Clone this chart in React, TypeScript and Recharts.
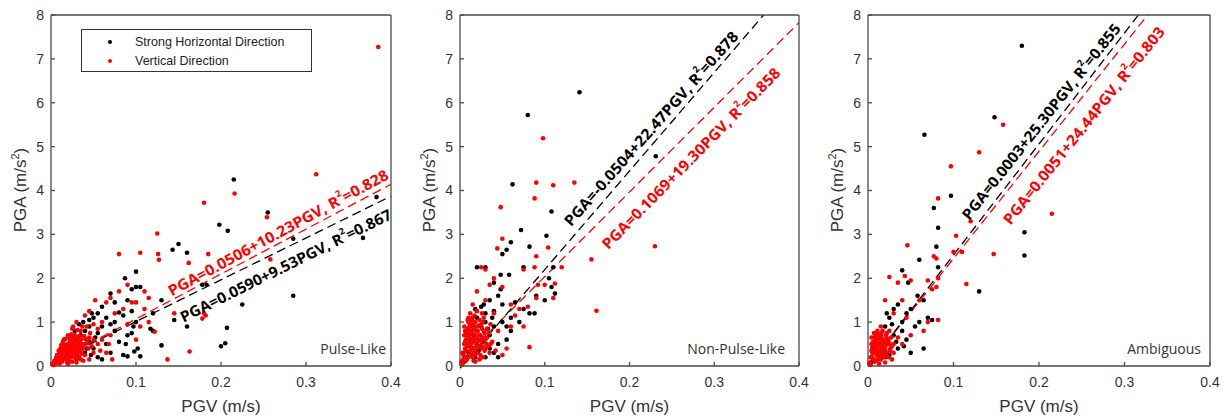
import React from 'react';
import {
  ScatterChart,
  Scatter,
  XAxis,
  YAxis,
  ReferenceLine,
  ReferenceDot,
  Legend,
} from 'recharts';

type Pt = [number, number];

const xTicks = [0, 0.1, 0.2, 0.3, 0.4];
const yTicks = [0, 1, 2, 3, 4, 5, 6, 7, 8];
const seriesNames = ['Strong Horizontal Direction', 'Vertical Direction'];
const seriesColors = ['#000000', '#ff0000'];
const panelNames = ['Pulse-Like', 'Non-Pulse-Like', 'Ambiguous'];

// [intercept, slope, R²] of the fitted lines
const horizontalFits: [number, number, string][] = [
  [0.059, 9.53, '0.867'],
  [-0.0504, 22.47, '0.878'],
  [0.0003, 25.3, '0.855'],
];
const verticalFits: [number, number, string][] = [
  [0.0506, 10.23, '0.828'],
  [0.1069, 19.3, '0.858'],
  [0.0051, 24.44, '0.803'],
];

// PGV (m/s), PGA (m/s²) — Pulse-Like
const pulseHorizontal: Pt[] = [
  [0.215, 4.25], [0.255, 3.5], [0.198, 3.22], [0.208, 3.08], [0.15, 2.78], [0.143, 2.65], [0.16, 2.58],
  [0.285, 2.9], [0.367, 2.92], [0.383, 3.85], [0.285, 1.6], [0.225, 1.4], [0.207, 0.87], [0.205, 0.52],
  [0.2, 0.45], [0.13, 0.47], [0.16, 0.9], [0.145, 1.05], [0.178, 1.85], [0.183, 1.85], [0.1, 2.15],
  [0.087, 2.0], [0.07, 1.65], [0.1, 1.8], [0.105, 1.8], [0.095, 1.75], [0.09, 1.5], [0.095, 1.25],
  [0.085, 1.15], [0.08, 1.22], [0.075, 1.45], [0.06, 1.35], [0.055, 1.2], [0.05, 1.1], [0.045, 1.05],
  [0.06, 0.9], [0.07, 0.95], [0.075, 0.8], [0.09, 0.7], [0.095, 0.75], [0.097, 0.9], [0.1, 1.0],
  [0.102, 0.4], [0.098, 0.33], [0.09, 0.22], [0.085, 0.25], [0.105, 0.22], [0.12, 0.8], [0.117, 0.85],
  [0.12, 1.2], [0.13, 1.5], [0.065, 0.5], [0.07, 0.3], [0.04, 0.8], [0.035, 0.7], [0.03, 0.6],
  [0.045, 0.55], [0.05, 0.4], [0.025, 0.35], [0.02, 0.3], [0.04, 0.3], [0.055, 0.2], [0.06, 0.15],
  [0.03, 0.15], [0.015, 0.2], [0.01, 0.1], [0.025, 0.5], [0.035, 0.45], [0.045, 0.9], [0.055, 0.75],
  [0.065, 1.1], [0.075, 1.0], [0.08, 0.55], [0.088, 0.5], [0.048, 1.2], [0.052, 0.65], [0.042, 0.4],
  [0.038, 1.0], [0.012, 0.3], [0.018, 0.45], [0.028, 0.8], [0.033, 0.95], [0.022, 0.62], [0.047, 0.25],
];
const pulseVertical: Pt[] = [
  [0.385, 7.27], [0.312, 4.37], [0.216, 3.93], [0.18, 3.72], [0.125, 3.02], [0.254, 3.39], [0.258, 2.43],
  [0.08, 2.55], [0.105, 2.58], [0.126, 2.55], [0.127, 2.42], [0.162, 2.35], [0.185, 2.55], [0.18, 1.2],
  [0.178, 1.08], [0.182, 1.15], [0.163, 0.33], [0.137, 0.15], [0.145, 1.2], [0.115, 1.55], [0.11, 1.7],
  [0.08, 1.7], [0.085, 1.3], [0.09, 1.85], [0.095, 1.45], [0.1, 1.45], [0.11, 1.3], [0.115, 1.0],
  [0.122, 0.78], [0.105, 0.9], [0.1, 0.6], [0.075, 1.2], [0.065, 1.45], [0.052, 1.5], [0.04, 1.15],
  [0.05, 0.95], [0.06, 1.0], [0.03, 1.0], [0.025, 0.85], [0.035, 0.8], [0.04, 0.5], [0.045, 0.65],
  [0.05, 0.3], [0.055, 0.5], [0.06, 0.6], [0.065, 0.3], [0.07, 0.7], [0.03, 0.3], [0.02, 0.5],
  [0.015, 0.35], [0.02, 0.15], [0.01, 0.2], [0.005, 0.05], [0.01, 0.3], [0.025, 0.65], [0.03, 0.45],
  [0.035, 0.6], [0.015, 0.45], [0.02, 0.25], [0.025, 0.1], [0.04, 0.25], [0.045, 0.15], [0.005, 0.1],
  [0.012, 0.15], [0.018, 0.4], [0.022, 0.55], [0.028, 0.7], [0.033, 0.2], [0.008, 0.12], [0.003, 0.02],
  [0.014, 0.55], [0.017, 0.62], [0.024, 0.72], [0.032, 0.52], [0.037, 0.38], [0.027, 0.28], [0.011, 0.4],
  [0.007, 0.25], [0.019, 0.08], [0.031, 0.82], [0.042, 0.9], [0.048, 0.45], [0.055, 0.85], [0.038, 0.12],
  [0.045, 1.25], [0.058, 0.35], [0.068, 0.5], [0.072, 0.15], [0.09, 0.95], [0.07, 1.55],
  [0.013, 0.25], [0.016, 0.18], [0.021, 0.38], [0.023, 0.2], [0.026, 0.48], [0.029, 0.58], [0.034, 0.34],
  [0.036, 0.5], [0.039, 0.68], [0.009, 0.35], [0.006, 0.18], [0.018, 0.3], [0.02, 0.7], [0.024, 0.42],
  [0.028, 0.36], [0.031, 0.25], [0.035, 0.15], [0.042, 0.6], [0.044, 0.4], [0.015, 0.6], [0.012, 0.48],
  [0.026, 0.9], [0.033, 0.68], [0.037, 0.9], [0.022, 0.1], [0.03, 0.08], [0.004, 0.06], [0.01, 0.05],
  [0.002, 0.05], [0.004, 0.12], [0.006, 0.08], [0.008, 0.2], [0.009, 0.14], [0.011, 0.22], [0.012, 0.32],
  [0.013, 0.1], [0.014, 0.28], [0.015, 0.4], [0.016, 0.25], [0.017, 0.48], [0.018, 0.15], [0.019, 0.35],
  [0.02, 0.42], [0.021, 0.3], [0.022, 0.5], [0.023, 0.6], [0.024, 0.34], [0.025, 0.22], [0.026, 0.55],
  [0.027, 0.45], [0.028, 0.62], [0.029, 0.18], [0.03, 0.55], [0.031, 0.38], [0.032, 0.65], [0.033, 0.44],
  [0.034, 0.58], [0.036, 0.28], [0.038, 0.48], [0.04, 0.62], [0.043, 0.52], [0.046, 0.75], [0.05, 0.6],
  [0.014, 0.15], [0.016, 0.38], [0.02, 0.05], [0.025, 0.3], [0.01, 0.08],
];

// Non-Pulse-Like
const nonPulseHorizontal: Pt[] = [
  [0.141, 6.24], [0.08, 5.72], [0.231, 4.78], [0.062, 4.14], [0.108, 3.52], [0.072, 3.1], [0.102, 2.97],
  [0.082, 2.72], [0.06, 2.82], [0.055, 2.65], [0.05, 2.55], [0.075, 2.25], [0.048, 2.08], [0.058, 2.08],
  [0.112, 1.65], [0.108, 1.8], [0.105, 2.0], [0.11, 2.25], [0.03, 2.25], [0.02, 2.25], [0.04, 1.9],
  [0.048, 1.75], [0.1, 1.5], [0.09, 1.6], [0.088, 1.2], [0.082, 1.2], [0.075, 1.3], [0.06, 1.1],
  [0.05, 1.0], [0.055, 0.9], [0.055, 0.6], [0.045, 0.5], [0.04, 0.3], [0.035, 0.7], [0.03, 1.2],
  [0.025, 1.35], [0.02, 1.1], [0.015, 0.9], [0.01, 0.8], [0.025, 0.6], [0.03, 0.2], [0.045, 0.2],
  [0.035, 0.4], [0.015, 0.4], [0.02, 0.5], [0.01, 0.3], [0.005, 0.1], [0.03, 1.0], [0.04, 1.25],
  [0.05, 1.4], [0.065, 1.45], [0.07, 1.0], [0.06, 0.8], [0.025, 0.9], [0.012, 0.6], [0.018, 0.2],
  [0.04, 0.9], [0.045, 1.6], [0.035, 1.5], [0.028, 1.4], [0.008, 0.2], [0.012, 0.45], [0.016, 0.7],
  [0.022, 0.35], [0.027, 0.55], [0.033, 0.85], [0.004, 0.3], [0.018, 1.3], [0.038, 1.1],
];
const nonPulseVertical: Pt[] = [
  [0.098, 5.19], [0.048, 3.62], [0.09, 4.18], [0.11, 4.12], [0.135, 4.18], [0.088, 3.82], [0.044, 2.68],
  [0.05, 2.9], [0.104, 2.7], [0.23, 2.73], [0.155, 2.43], [0.161, 1.26], [0.082, 0.43], [0.09, 2.5],
  [0.088, 2.25], [0.075, 2.2], [0.112, 1.88], [0.12, 2.25], [0.025, 2.25], [0.03, 2.2], [0.035, 1.85],
  [0.04, 2.0], [0.05, 1.8], [0.06, 1.4], [0.07, 1.3], [0.08, 1.35], [0.09, 1.55], [0.092, 1.85],
  [0.1, 1.85], [0.11, 1.55], [0.065, 1.15], [0.075, 0.9], [0.06, 0.9], [0.045, 0.8], [0.04, 1.2],
  [0.03, 1.5], [0.02, 1.7], [0.015, 1.4], [0.01, 1.1], [0.02, 0.9], [0.005, 0.7], [0.03, 0.6],
  [0.035, 0.3], [0.05, 0.25], [0.055, 0.4], [0.025, 0.4], [0.015, 0.2], [0.01, 0.5], [0.018, 1.0],
  [0.022, 0.7], [0.028, 1.1], [0.012, 0.35], [0.008, 0.15], [0.003, 0.05], [0.006, 0.4], [0.014, 0.75],
  [0.017, 0.55], [0.024, 0.25], [0.032, 0.85], [0.038, 0.55], [0.042, 0.35], [0.012, 0.95], [0.007, 0.6],
  [0.02, 1.25], [0.009, 0.85], [0.013, 0.5], [0.016, 0.3], [0.019, 0.65], [0.021, 0.45], [0.026, 0.85],
  [0.029, 0.35], [0.004, 0.15], [0.011, 0.7], [0.023, 1.05], [0.017, 1.15], [0.027, 0.65], [0.033, 0.45],
  [0.036, 0.95], [0.014, 0.25], [0.01, 1.0], [0.006, 0.8],
  [0.008, 0.5], [0.011, 0.25], [0.013, 0.62], [0.015, 0.95], [0.018, 0.38], [0.02, 0.58], [0.022, 0.92],
  [0.025, 0.55], [0.027, 0.2], [0.029, 0.75], [0.031, 0.5], [0.016, 0.12], [0.005, 0.5], [0.009, 0.65],
  [0.019, 0.8], [0.023, 0.45], [0.026, 1.2], [0.014, 1.05], [0.004, 0.25], [0.012, 0.8],
  [0.002, 0.1], [0.003, 0.3], [0.005, 0.2], [0.006, 0.55], [0.007, 0.35], [0.008, 0.75], [0.009, 0.45],
  [0.01, 0.2], [0.011, 0.9], [0.012, 0.55], [0.013, 0.8], [0.014, 0.4], [0.015, 0.6], [0.016, 0.85],
  [0.017, 0.25], [0.018, 0.7], [0.019, 0.5], [0.02, 0.3], [0.021, 0.8], [0.022, 0.6], [0.023, 0.15],
  [0.024, 0.7], [0.025, 0.95], [0.026, 0.45], [0.028, 0.8], [0.03, 0.4], [0.032, 0.65], [0.034, 0.75],
  [0.036, 0.5], [0.015, 1.1], [0.009, 1.05], [0.005, 0.9], [0.012, 1.2], [0.007, 0.12], [0.018, 0.1],
  [0.027, 1.0],
];

// Ambiguous
const ambiguousHorizontal: Pt[] = [
  [0.18, 7.3], [0.148, 5.67], [0.066, 5.27], [0.097, 3.88], [0.077, 3.6], [0.082, 3.15], [0.183, 3.05],
  [0.183, 2.52], [0.08, 2.72], [0.06, 2.42], [0.082, 2.25], [0.13, 1.7], [0.04, 2.18], [0.047, 1.9],
  [0.058, 1.6], [0.065, 1.5], [0.07, 1.1], [0.075, 1.05], [0.065, 0.4], [0.05, 1.3], [0.045, 1.2],
  [0.04, 1.0], [0.035, 1.4], [0.03, 1.3], [0.025, 1.1], [0.02, 0.9], [0.03, 0.7], [0.045, 0.6],
  [0.05, 0.3], [0.035, 0.4], [0.025, 0.25], [0.015, 0.5], [0.01, 0.6], [0.02, 0.2], [0.04, 0.8],
  [0.055, 0.9], [0.01, 0.3], [0.005, 0.1], [0.06, 1.0], [0.015, 0.7], [0.028, 0.95], [0.022, 1.2],
  [0.033, 0.55], [0.042, 0.45], [0.018, 0.35], [0.008, 0.45],
];
const ambiguousVertical: Pt[] = [
  [0.158, 5.5], [0.13, 4.87], [0.097, 4.55], [0.082, 3.82], [0.12, 3.3], [0.215, 3.47], [0.103, 2.97],
  [0.1, 2.6], [0.11, 2.6], [0.147, 2.55], [0.046, 2.75], [0.077, 2.5], [0.08, 2.45], [0.115, 1.87],
  [0.025, 2.03], [0.043, 2.05], [0.082, 2.0], [0.07, 1.95], [0.075, 1.75], [0.08, 1.8], [0.082, 1.05],
  [0.07, 1.0], [0.065, 0.8], [0.06, 1.5], [0.05, 1.95], [0.035, 1.9], [0.04, 1.5], [0.02, 1.5],
  [0.03, 1.2], [0.045, 1.1], [0.05, 0.7], [0.04, 0.5], [0.03, 0.3], [0.025, 0.8], [0.015, 0.9],
  [0.02, 0.6], [0.01, 0.4], [0.005, 0.2], [0.015, 0.15], [0.02, 0.35], [0.025, 0.5], [0.01, 0.7],
  [0.008, 0.1], [0.003, 0.03], [0.012, 0.25], [0.018, 0.45], [0.006, 0.55], [0.028, 0.15], [0.035, 0.65],
  [0.022, 0.75], [0.014, 0.6], [0.009, 0.3], [0.016, 0.4], [0.012, 0.5], [0.004, 0.35], [0.019, 0.25],
  [0.026, 0.4], [0.007, 0.65], [0.017, 0.8], [0.011, 0.15], [0.024, 0.2],
  [0.008, 0.52], [0.013, 0.72], [0.015, 0.3], [0.02, 0.08], [0.021, 0.48], [0.023, 0.62], [0.006, 0.3],
  [0.01, 0.55], [0.018, 0.6], [0.027, 0.65], [0.03, 0.5], [0.013, 0.05], [0.005, 0.42], [0.016, 0.22],
  [0.002, 0.08], [0.003, 0.2], [0.004, 0.5], [0.005, 0.3], [0.006, 0.15], [0.007, 0.45], [0.008, 0.35],
  [0.009, 0.6], [0.01, 0.25], [0.011, 0.5], [0.012, 0.7], [0.013, 0.35], [0.014, 0.45], [0.015, 0.65],
  [0.016, 0.55], [0.017, 0.3], [0.018, 0.2], [0.019, 0.5], [0.02, 0.4], [0.021, 0.7], [0.022, 0.3],
  [0.024, 0.55], [0.026, 0.35], [0.028, 0.45], [0.007, 0.75], [0.004, 0.65], [0.011, 0.8], [0.016, 0.75],
  [0.009, 0.12], [0.014, 0.2],
];

const horizontalSets = [pulseHorizontal, nonPulseHorizontal, ambiguousHorizontal];
const verticalSets = [pulseVertical, nonPulseVertical, ambiguousVertical];

// chart placement and annotation layout
const panelLayout = [
  { left: 0, width: 410, marginLeft: 51, marginRight: 19, nameRight: 5 },
  { left: 410, width: 408, marginLeft: 50, marginRight: 19, nameRight: 14 },
  { left: 818, width: 410, marginLeft: 50, marginRight: 18, nameRight: 9 },
];
// [x, y, rotation, textLength] for horizontal then vertical equation
const eqLayoutH: [number, number, number, number][] = [
  [0.276, 2.3, -26.5, 234],
  [0.225, 5.42, -48.5, 254],
  [0.202, 5.58, -51.6, 245],
];
const eqLayoutV: [number, number, number, number][] = [
  [0.267, 3.05, -28.5, 248],
  [0.272, 4.74, -45.5, 247],
  [0.252, 5.49, -51.3, 248],
];

const X_MAX = 0.4;
const Y_MAX = 8;
const THIN = 0.001;
const axisColor = '#4a4a4a';
const tickFont = "'Liberation Sans', Arial, sans-serif";

const toRows = (pts: Pt[]) => pts.map(([pgv, pga]) => ({ pgv, pga }));

const fitSegment = (a: number, b: number) => {
  const xEnd = Math.min(X_MAX, (Y_MAX - a) / b);
  return [
    { x: 0, y: a },
    { x: xEnd, y: a + b * xEnd },
  ];
};

const eqText = (a: number, b: number) => `PGA=${a.toFixed(4)}+${b.toFixed(2)}PGV`;

const dotShape = (color: string) => (props: any) =>
  <circle cx={props.cx} cy={props.cy} r={2.3} fill={color} />;

function EqLabel(props: any) {
  const { viewBox, eq, r2, color, rot, len } = props;
  const cx = viewBox.x + (viewBox.width || 0) / 2;
  const cy = viewBox.y + (viewBox.height || 0) / 2;
  return (
    <text
      x={cx}
      y={cy}
      textAnchor="middle"
      dominantBaseline="central"
      transform={`rotate(${rot} ${cx} ${cy})`}
      fill={color}
      fontFamily="'Open Sans', sans-serif"
      fontWeight={700}
      fontSize={15}
      textLength={len}
      lengthAdjust="spacingAndGlyphs"
    >
      {eq}, R<tspan fontSize={9} dy={-6}>2</tspan>
      <tspan dy={6}>={r2}</tspan>
    </text>
  );
}

function LegendBox() {
  return (
    <div
      style={{
        boxSizing: 'border-box',
        width: 231,
        height: 43,
        border: '1.5px solid #333',
        background: '#fff',
        fontFamily: tickFont,
        fontSize: 12.5,
        color: '#222',
        position: 'relative',
      }}
    >
      {seriesNames.map((name, i) => (
        <div key={name} style={{ position: 'absolute', left: 0, top: 3 + i * 19, height: 18, display: 'flex', alignItems: 'center' }}>
          <span style={{ width: 4, height: 4, borderRadius: 2, background: seriesColors[i], marginLeft: 26, marginRight: 23 }} />
          <span>{name}</span>
        </div>
      ))}
    </div>
  );
}

function Panel({ idx }: { idx: number }) {
  const lay = panelLayout[idx];
  const [ha, hb, hr] = horizontalFits[idx];
  const [va, vb, vr] = verticalFits[idx];
  const plotRight = lay.width - lay.marginRight;
  const plotLeft = lay.marginLeft;
  return (
    <div style={{ position: 'absolute', left: lay.left, top: 0 }}>
      <ScatterChart
        width={lay.width}
        height={417}
        margin={{ top: 15, right: lay.marginRight, bottom: 51, left: lay.marginLeft }}
      >
        <XAxis
          dataKey="pgv"
          type="number"
          domain={[0, X_MAX]}
          ticks={xTicks}
          height={THIN}
          tickSize={-4}
          tickMargin={15}
          stroke={axisColor}
          strokeWidth={1.3}
          tick={{ fill: '#333', fontSize: 14, fontFamily: tickFont }}
        />
        <XAxis
          xAxisId="top"
          orientation="top"
          type="number"
          domain={[0, X_MAX]}
          ticks={xTicks}
          height={THIN}
          mirror
          tickSize={4}
          tickFormatter={() => ''}
          stroke={axisColor}
          strokeWidth={1.3}
        />
        <YAxis
          dataKey="pga"
          type="number"
          domain={[0, Y_MAX]}
          ticks={yTicks}
          width={THIN}
          tickSize={-4}
          tickMargin={11}
          stroke={axisColor}
          strokeWidth={1.3}
          tick={{ fill: '#333', fontSize: 14, fontFamily: tickFont }}
        />
        <YAxis
          yAxisId="right"
          orientation="right"
          type="number"
          domain={[0, Y_MAX]}
          ticks={yTicks}
          width={THIN}
          mirror
          tickSize={4}
          tickFormatter={() => ''}
          stroke={axisColor}
          strokeWidth={1.3}
        />
        <Scatter
          name={seriesNames[0]}
          data={toRows(horizontalSets[idx])}
          fill={seriesColors[0]}
          shape={dotShape(seriesColors[0])}
          isAnimationActive={false}
        />
        <Scatter
          name={seriesNames[1]}
          data={toRows(verticalSets[idx])}
          fill={seriesColors[1]}
          shape={dotShape(seriesColors[1])}
          isAnimationActive={false}
        />
        <ReferenceLine
          segment={fitSegment(va, vb)}
          stroke={seriesColors[1]}
          strokeWidth={1.3}
          strokeDasharray="9 5"
          ifOverflow="visible"
        />
        <ReferenceLine
          segment={fitSegment(ha, hb)}
          stroke={seriesColors[0]}
          strokeWidth={1.3}
          strokeDasharray="9 5"
          ifOverflow="visible"
        />
        <ReferenceDot
          x={eqLayoutV[idx][0]}
          y={eqLayoutV[idx][1]}
          r={0}
          fill="none"
          stroke="none"
          ifOverflow="visible"
          label={<EqLabel eq={eqText(va, vb)} r2={vr} color={seriesColors[1]} rot={eqLayoutV[idx][2]} len={eqLayoutV[idx][3]} />}
        />
        <ReferenceDot
          x={eqLayoutH[idx][0]}
          y={eqLayoutH[idx][1]}
          r={0}
          fill="none"
          stroke="none"
          ifOverflow="visible"
          label={<EqLabel eq={eqText(ha, hb)} r2={hr} color={seriesColors[0]} rot={eqLayoutH[idx][2]} len={eqLayoutH[idx][3]} />}
        />
        {idx === 0 && (
          <Legend
            layout="vertical"
            align="center"
            verticalAlign="middle"
            wrapperStyle={{ left: 81, top: 29, width: 231, height: 43 }}
            content={() => <LegendBox />}
          />
        )}
        <text
          x={plotRight - lay.nameRight}
          y={354}
          textAnchor="end"
          fill="#333"
          fontFamily="'Open Sans', sans-serif"
          fontSize={14}
        >
          {panelNames[idx]}
        </text>
        <text
          x={(plotLeft + plotRight) / 2}
          y={412}
          textAnchor="middle"
          fill="#333"
          fontFamily={tickFont}
          fontSize={17}
        >
          PGV (m/s)
        </text>
        <text
          x={0}
          y={0}
          transform={`translate(${plotLeft - 25} 190) rotate(-90)`}
          textAnchor="middle"
          fill="#333"
          fontFamily={tickFont}
          fontSize={17}
        >
          PGA (m/s<tspan fontSize={11} dy={-7}>2</tspan>
          <tspan dy={7}>)</tspan>
        </text>
      </ScatterChart>
    </div>
  );
}

export default function App() {
  return (
    <div style={{ position: 'absolute', left: 0, top: 0, width: 1228, height: 417, background: '#fff' }}>
      {panelNames.map((_, i) => (
        <Panel key={i} idx={i} />
      ))}
    </div>
  );
}
